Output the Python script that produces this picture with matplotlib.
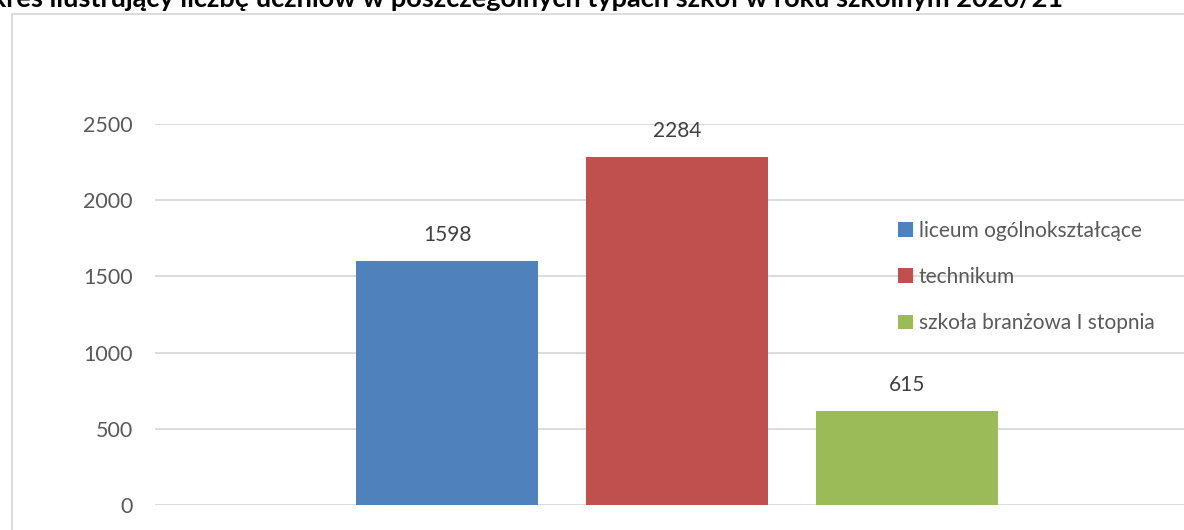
import matplotlib
matplotlib.use("Agg")
import matplotlib.pyplot as plt
from matplotlib.patches import Rectangle

plt.rcParams["font.family"] = ["Lato", "DejaVu Sans"]

# dane
series_names = ["liceum ogólnokształcące", "technikum", "szkoła branżowa I stopnia"]
values = [1598, 2284, 615]
colors = ["#4F81BD", "#C0504D", "#9BBB59"]
y_ticks = [0, 500, 1000, 1500, 2000, 2500]
title = "Wykres ilustrujący liczbę uczniów w poszczególnych typach szkół w roku szkolnym 2020/21"

W, H = 1184, 530
fig = plt.figure(figsize=(W / 100, H / 100), dpi=100)

# ramka wykresu (wychodzi poza obraz z prawej i z dołu)
fig.patches.append(Rectangle((12 / W, -0.1), 1.2, (H - 14) / H + 0.1,
                             transform=fig.transFigure, fill=False,
                             edgecolor="#D9D9D9", linewidth=1.3))

# tytuł - ucięty u góry i z lewej jak w oryginale
fig.text(1063 / W, 1 - 7 / H, title, ha="right", va="baseline",
         fontsize=19.5, fontweight="bold", color="black")

left, right = 155, 1199
top, bottom = 124, 505
ax = fig.add_axes([left / W, 1 - bottom / H, (right - left) / W, (bottom - top) / H])

bar_w = 182 / (right - left)
step = 230 / (right - left)
xs = [(i - 1) * step for i in range(len(values))]
for x, v, c, name in zip(xs, values, colors, series_names):
    ax.bar(x, v, width=bar_w, color=c, label=name, zorder=3)
    ax.annotate(f"{v}", xy=(x, v), xytext=(0, 19), textcoords="offset points",
                ha="center", va="center", fontsize=15, color="#404040")

ax.set_xlim(-0.5, 0.5)
ax.set_ylim(0, 2500)
ax.set_yticks(y_ticks)
ax.set_yticklabels([str(t) for t in y_ticks])
ax.set_xticks([])
ax.grid(axis="y", color="#D9D9D9", linewidth=1.3, zorder=0)
ax.tick_params(axis="y", length=0, pad=16, labelsize=15.5, labelcolor="#595959")
for s in ax.spines.values():
    s.set_visible(False)

fig.legend(loc="upper left", bbox_to_anchor=(898 / W, 1 - 221 / H),
           frameon=False, fontsize=15, labelcolor="#595959",
           handlelength=0.7, handleheight=0.7, handletextpad=0.3,
           labelspacing=1.25, borderpad=0, borderaxespad=0)

plt.savefig("out.png", dpi=100)
plt.close()
